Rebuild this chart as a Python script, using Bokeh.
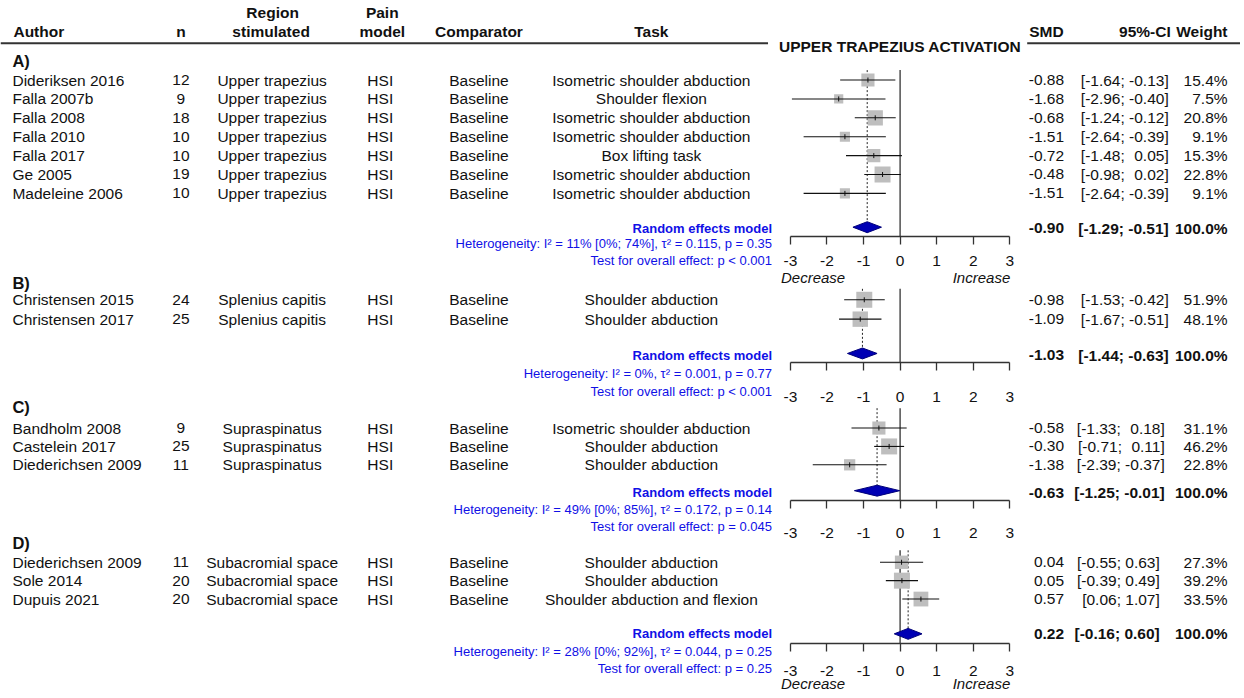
import numpy as np
from bokeh.plotting import figure
from bokeh.models import Range1d, LinearAxis, FixedTicker, ColumnDataSource, LabelSet
from bokeh.embed import file_html
from bokeh.resources import INLINE
from bokeh.core.properties import value

# ---------------- data ----------------
HEADER_TOP = ["Region", "Pain"]
HEADER_BOTTOM = ["n", "stimulated", "model", "Comparator", "Task"]
HEADER_AUTHOR = "Author"
STAT_HEADERS = ["SMD", "95%-CI", "Weight"]
PLOT_TITLE = "UPPER TRAPEZIUS ACTIVATION"
TICKS = [-3, -2, -1, 0, 1, 2, 3]
TICK_LABELS = ["-3", "-2", "-1", "0", "1", "2", "3"]
DIRECTION_LABELS = ["Decrease", "Increase"]
PANEL_NAMES = ["A)", "B)", "C)", "D)"]

A_author = ["Dideriksen 2016", "Falla 2007b", "Falla 2008", "Falla 2010", "Falla 2017", "Ge 2005", "Madeleine 2006"]
A_n = [12, 9, 18, 10, 10, 19, 10]
A_region = ["Upper trapezius"] * 7
A_pain = ["HSI"] * 7
A_comp = ["Baseline"] * 7
A_task = ["Isometric shoulder abduction", "Shoulder flexion", "Isometric shoulder abduction",
          "Isometric shoulder abduction", "Box lifting task", "Isometric shoulder abduction",
          "Isometric shoulder abduction"]
A_smd = [-0.88, -1.68, -0.68, -1.51, -0.72, -0.48, -1.51]
A_lo = [-1.64, -2.96, -1.24, -2.64, -1.48, -0.98, -2.64]
A_hi = [-0.13, -0.40, -0.12, -0.39, 0.05, 0.02, -0.39]
A_w = [15.4, 7.5, 20.8, 9.1, 15.3, 22.8, 9.1]
A_re = [-0.90, -1.29, -0.51]
A_het = "Heterogeneity: I² = 11% [0%; 74%], τ² = 0.115, p = 0.35"
A_test = "Test for overall effect: p < 0.001"

B_author = ["Christensen 2015", "Christensen 2017"]
B_n = [24, 25]
B_region = ["Splenius capitis", "Splenius capitis"]
B_pain = ["HSI", "HSI"]
B_comp = ["Baseline", "Baseline"]
B_task = ["Shoulder abduction", "Shoulder abduction"]
B_smd = [-0.98, -1.09]
B_lo = [-1.53, -1.67]
B_hi = [-0.42, -0.51]
B_w = [51.9, 48.1]
B_re = [-1.03, -1.44, -0.63]
B_het = "Heterogeneity: I² = 0%, τ² = 0.001, p = 0.77"
B_test = "Test for overall effect: p < 0.001"

C_author = ["Bandholm 2008", "Castelein 2017", "Diederichsen 2009"]
C_n = [9, 25, 11]
C_region = ["Supraspinatus", "Supraspinatus", "Supraspinatus"]
C_pain = ["HSI", "HSI", "HSI"]
C_comp = ["Baseline", "Baseline", "Baseline"]
C_task = ["Isometric shoulder abduction", "Shoulder abduction", "Shoulder abduction"]
C_smd = [-0.58, -0.30, -1.38]
C_lo = [-1.33, -0.71, -2.39]
C_hi = [0.18, 0.11, -0.37]
C_w = [31.1, 46.2, 22.8]
C_re = [-0.63, -1.25, -0.01]
C_het = "Heterogeneity: I² = 49% [0%; 85%], τ² = 0.172, p = 0.14"
C_test = "Test for overall effect: p = 0.045"

D_author = ["Diederichsen 2009", "Sole 2014", "Dupuis 2021"]
D_n = [11, 20, 20]
D_region = ["Subacromial space", "Subacromial space", "Subacromial space"]
D_pain = ["HSI", "HSI", "HSI"]
D_comp = ["Baseline", "Baseline", "Baseline"]
D_task = ["Shoulder abduction", "Shoulder abduction", "Shoulder abduction and flexion"]
D_smd = [0.04, 0.05, 0.57]
D_lo = [-0.55, -0.39, 0.06]
D_hi = [0.63, 0.49, 1.07]
D_w = [27.3, 39.2, 33.5]
D_re = [0.22, -0.16, 0.60]
D_het = "Heterogeneity: I² = 28% [0%; 92%], τ² = 0.044, p = 0.25"
D_test = "Test for overall effect: p = 0.25"

# ---------------- layout constants ----------------
FONT = "Liberation Sans"
TXT = "#111111"
BLUE = "#1010E6"
GRAY = "#BEBEBE"
AXC = "#333333"
REF_W, REF_H = 1244, 698
ZERO_X = 902.5       # reference x of SMD = 0
UNIT = 36.667        # px per SMD unit

AUTH_X, N_X, REG_X, PAIN_X, COMP_X, TASK_X = 12, 181, 272.5, 381, 480, 653
SMD_R, W_R, STAT_R = 1067, 1231, 774
FS = "15.5px"

p = figure(width=1240, height=694, x_range=Range1d(0, REF_W), y_range=Range1d(REF_H, 0),
           x_axis_location=None, y_axis_location=None, toolbar_location=None,
           output_backend="svg", min_border=0)
p.extra_x_ranges = {"smd": Range1d((0 - ZERO_X) / UNIT, (REF_W - ZERO_X) / UNIT)}
p.outline_line_color = None
p.grid.visible = False
p.background_fill_color = "white"
p.border_fill_color = "white"


def fmt(v):
    return f"{v:.2f}"


def ci_strings(lo, hi):
    pad_hi = any(v < 0 for v in hi)
    out = []
    for a, b in zip(lo, hi):
        sb = fmt(b) if (b < 0 or not pad_hi) else "\u2004" + fmt(b)
        out.append(f"[{fmt(a)}; {sb}]")
    return out


def txt(xs, ys, texts, align="left", size=FS, style="normal", color=TXT, rng="default"):
    src = ColumnDataSource(dict(x=list(xs), y=list(ys), t=list(texts)))
    p.add_layout(LabelSet(x="x", y="y", text="t", source=src, x_range_name=rng,
                          text_align=align, text_baseline="middle",
                          text_font=value(FONT), text_font_size=value(size),
                          text_font_style=value(style), text_color=value(color)))


def add_axis(y_fixed, standoff):
    ax = LinearAxis(x_range_name="smd", bounds=(-3, 3), ticker=FixedTicker(ticks=TICKS),
                    major_label_overrides={t: l for t, l in zip(TICKS, TICK_LABELS)},
                    fixed_location=y_fixed)
    ax.axis_line_color = AXC
    ax.axis_line_width = 1.3
    ax.major_tick_line_color = AXC
    ax.major_tick_line_width = 1.3
    ax.major_tick_in = 0
    ax.major_tick_out = 8
    ax.minor_tick_line_color = None
    ax.major_label_standoff = standoff
    ax.major_label_text_font = FONT
    ax.major_label_text_font_size = "15.5px"
    ax.major_label_text_color = TXT
    p.add_layout(ax, "below")


def draw_panel(g, author, n, region, pain, comp, task, smd, lo, hi, w, re, het, test):
    k = len(author)
    ys = [g["row0"] + i * g["step"] for i in range(k)]
    txt([AUTH_X] * k, ys, author, "left")
    txt([N_X] * k, ys, [str(v) for v in n], "center")
    txt([REG_X] * k, ys, region, "center")
    txt([PAIN_X] * k, ys, pain, "center")
    txt([COMP_X] * k, ys, comp, "center")
    txt([TASK_X] * k, ys, task, "center")
    txt([SMD_R] * k, ys, [fmt(v) for v in smd], "right")
    txt([g["ci_r"]] * k, ys, ci_strings(lo, hi), "right")
    txt([W_R] * k, ys, [f"{v:.1f}%" for v in w], "right")

    ry = g["re"]
    txt([STAT_R], [ry], ["Random effects model"], "right", "13px", "bold", BLUE)
    txt([STAT_R], [g["het"]], [het], "right", "13px", "normal", BLUE)
    txt([STAT_R], [g["test"]], [test], "right", "13px", "normal", BLUE)
    txt([SMD_R], [ry], [fmt(re[0])], "right", FS, "bold")
    txt([g["ci_r"]], [ry], [f"[{fmt(re[1])}; {fmt(re[2])}]"], "right", FS, "bold")
    txt([W_R], [ry], ["100.0%"], "right", FS, "bold")

    wa = np.array(w, dtype=float)
    src = ColumnDataSource(dict(y=ys, smd=smd, lo=lo, hi=hi, size=16.0 * np.sqrt(wa / wa.max())))
    p.segment(x0=[0], y0=[g["ztop"]], x1=[0], y1=[g["axis"]], x_range_name="smd",
              line_color=AXC, line_width=1.3)
    dy = g["dia"]
    p.segment(x0=[re[0]], y0=[g["ztop"]], x1=[re[0]], y1=[dy], x_range_name="smd",
              line_color="#222222", line_width=1, line_dash="2 2")
    p.scatter("smd", "y", size="size", marker="square", source=src, x_range_name="smd",
              fill_color=GRAY, line_color=None)
    p.segment("lo", "y", "hi", "y", source=src, x_range_name="smd", line_color="#111111",
              line_width=1.1)
    p.scatter("smd", "y", marker="dash", angle=np.pi / 2, size=5, source=src,
              x_range_name="smd", line_color="#111111", line_width=1)
    p.patch([re[1], re[0], re[2], re[0]], [dy, dy - 5.5, dy, dy + 5.5], x_range_name="smd",
            fill_color="#0000B4", line_color="#00007A", line_width=1)
    add_axis(g["axis"], g["so"])


# ---------------- geometry (reference pixel rows) ----------------
GA = dict(axis=237.5, so=11, row0=80, step=19, ztop=70, re=229, dia=228,
          het=244, test=262, ci_r=1172)
GB = dict(axis=364.5, so=21, row0=301, step=19.5, ztop=290, re=357,
          dia=355, het=375, test=393, ci_r=1172)
GC = dict(axis=502.7, so=20, row0=430, step=18.5, ztop=410, re=495,
          dia=493, het=512.3, test=529.5, ci_r=1168)
GD = dict(axis=646.5, so=15, row0=565, step=18.5, ztop=553, re=636.7,
          dia=637, het=654.3, test=671.7, ci_r=1163)

# header
txt([REG_X + 0.5, PAIN_X + 2], [12, 12], HEADER_TOP, "center", FS, "bold")
txt([AUTH_X + 1], [31.5], [HEADER_AUTHOR], "left", FS, "bold")
txt([N_X, REG_X - 1, PAIN_X + 2, COMP_X, TASK_X], [31.5] * 5, HEADER_BOTTOM, "center", FS, "bold")
p.segment(x0=[0, 1030], y0=[43, 43], x1=[770, 1244], y1=[43, 43], line_color=AXC, line_width=2)
txt([ZERO_X], [46], [PLOT_TITLE], "center", FS, "bold")
txt([1032], [31.5], [STAT_HEADERS[0]], "left", FS, "bold")
txt([1174, W_R], [31.5, 31.5], STAT_HEADERS[1:], "right", FS, "bold")

# panel labels
txt([AUTH_X] * 4, [61, 284, 409, 546], PANEL_NAMES, "left", "16.5px", "bold")

draw_panel(GA, A_author, A_n, A_region, A_pain, A_comp, A_task, A_smd, A_lo, A_hi, A_w, A_re, A_het, A_test)
draw_panel(GB, B_author, B_n, B_region, B_pain, B_comp, B_task, B_smd, B_lo, B_hi, B_w, B_re, B_het, B_test)
draw_panel(GC, C_author, C_n, C_region, C_pain, C_comp, C_task, C_smd, C_lo, C_hi, C_w, C_re, C_het, C_test)
draw_panel(GD, D_author, D_n, D_region, D_pain, D_comp, D_task, D_smd, D_lo, D_hi, D_w, D_re, D_het, D_test)

# Decrease / Increase
txt([783, 783], [278.5, 687], [DIRECTION_LABELS[0]] * 2, "left", "15px", "italic")
txt([1013, 1013], [278.5, 687], [DIRECTION_LABELS[1]] * 2, "right", "15px", "italic")

open("out.html", "w").write(file_html(p, INLINE, title="Forest plot"))
